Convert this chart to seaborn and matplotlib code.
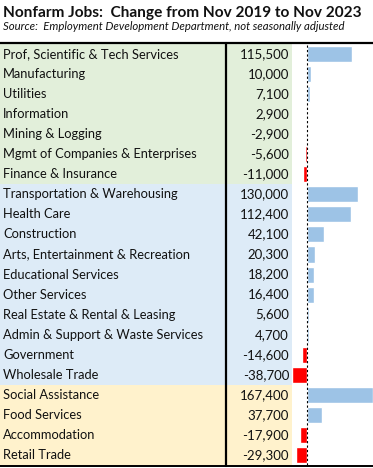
import matplotlib
matplotlib.use("Agg")
import matplotlib.pyplot as plt
import seaborn as sns
import pandas as pd
from matplotlib.transforms import blended_transform_factory

categories = [
    "Prof, Scientific & Tech Services", "Manufacturing", "Utilities", "Information",
    "Mining & Logging", "Mgmt of Companies & Enterprises", "Finance & Insurance",
    "Transportation & Warehousing", "Health Care", "Construction",
    "Arts, Entertainment & Recreation", "Educational Services", "Other Services",
    "Real Estate & Rental & Leasing", "Admin & Support & Waste Services",
    "Government", "Wholesale Trade",
    "Social Assistance", "Food Services", "Accommodation", "Retail Trade",
]
values = [115500, 10000, 7100, 2900, -2900, -5600, -11000,
          130000, 112400, 42100, 20300, 18200, 16400, 5600, 4700, -14600, -38700,
          167400, 37700, -17900, -29300]
groups = ["g"] * 7 + ["b"] * 10 + ["y"] * 4

title = "Nonfarm Jobs:  Change from Nov 2019 to Nov 2023"
subtitle = "Source:  Employment Development Department, not seasonally adjusted"

group_colors = {"g": "#E2EFDA", "b": "#DDEBF7", "y": "#FFF2CC"}
pos_color = "#9DC3E6"
neg_color = "#FF0000"

W, H = 373, 468
fig = plt.figure(figsize=(W / 100, H / 100), dpi=100)
sns.set_style("white")
plt.rcParams['font.family'] = ['Lato', 'DejaVu Sans']

top_px, bot_px = 44, 465
ax = fig.add_axes([0, 1 - bot_px / H, 1, (bot_px - top_px) / H])

df = pd.DataFrame({"cat": categories, "val": values,
                   "sign": ["pos" if v >= 0 else "neg" for v in values]})
sns.barplot(data=df, x="val", y="cat", hue="sign",
            palette={"pos": pos_color, "neg": neg_color},
            dodge=False, legend=False, width=0.8, ax=ax, orient="h",
            saturation=1, zorder=3)

zero_px, max_px = 307.3, 372.5
per_px = max(values) / (max_px - zero_px)
ax.set_xlim(-zero_px * per_px, (W - zero_px) * per_px)
n = len(categories)
ax.set_ylim(n - 0.5, -0.5)
ax.axis("off")

table_right = 292 / W
for i, g in enumerate(groups):
    ax.axhspan(i - 0.5, i + 0.5, xmin=0, xmax=table_right,
               color=group_colors[g], lw=0, zorder=0)

trans = blended_transform_factory(ax.transAxes, ax.transData)
for i, (c, v) in enumerate(zip(categories, values)):
    ax.text(3 / W, i, c, transform=trans, ha="left", va="center",
            fontsize=9.3, color="#111111", zorder=4)
    ax.text(289 / W, i, f"{v:,}", transform=trans, ha="right", va="center",
            fontsize=9.5, color="#111111", zorder=4)

# zero dashed line
ax.axvline(0, color="black", lw=0.8, ls=(0, (2, 2)), zorder=5)

# lines in figure coords
fig.add_artist(plt.Line2D([0, 1], [1 - 43.3 / H] * 2, color="black", lw=1.6))
fig.add_artist(plt.Line2D([0, 1], [1 - 465.7 / H] * 2, color="black", lw=1.4))
fig.add_artist(plt.Line2D([226.3 / W] * 2, [1 - 43.3 / H, 1 - 465.7 / H],
                          color="black", lw=1.6))

fig.text(3 / W, 1 - 12.5 / H, title, fontsize=11.1, fontweight="bold",
         ha="left", va="center", color="#111111")
fig.text(3 / W, 1 - 27 / H, subtitle, fontsize=8.2, style="italic",
         ha="left", va="center", color="#111111")

fig.savefig("out.png", dpi=100)
